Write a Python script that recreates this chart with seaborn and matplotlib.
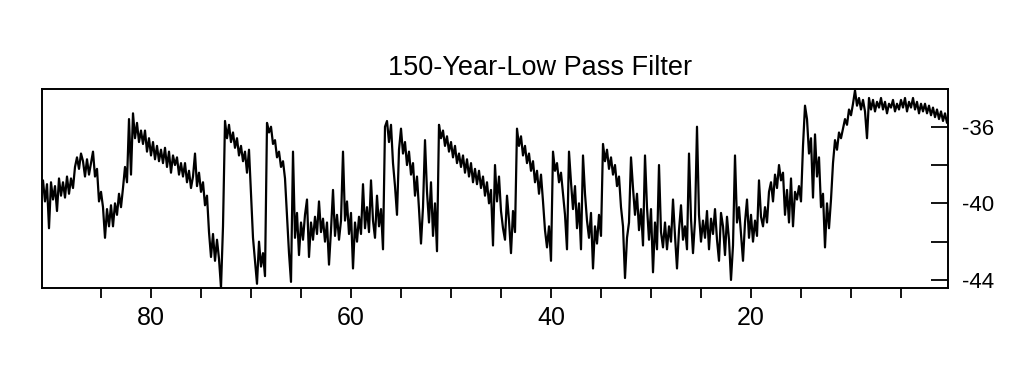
import numpy as np
import pandas as pd
import matplotlib
matplotlib.use("Agg")
import matplotlib.pyplot as plt
import seaborn as sns

# ----------------------------------------------------------------------
# Data: d18O values, one sample every 0.2 ka,
# starting at 90.8 ka (ten samples = 2 ka per row)
# ----------------------------------------------------------------------
start_age = 90.8
step_ka = 0.2

d18o = [
    -38.8, -39.9, -39.0, -41.3, -38.9, -39.8, -39.1, -40.4, -38.7, -39.6,
    -38.9, -39.7, -38.6, -39.5, -38.7, -39.2, -38.1, -37.6, -38.2, -37.4,
    -37.8, -38.6, -37.7, -38.5, -37.9, -37.3, -38.6, -38.2, -39.9, -39.4,
    -40.2, -41.8, -40.3, -41.2, -40.1, -41.2, -40.0, -40.6, -39.5, -40.2,
    -39.2, -38.1, -38.9, -35.6, -38.5, -35.3, -36.6, -35.8, -36.8, -36.2,
    -36.9, -36.2, -37.3, -36.6, -37.5, -36.8, -37.7, -37.0, -37.8, -37.2,
    -37.9, -37.1, -38.1, -37.3, -38.4, -37.5, -38.0, -37.6, -38.5, -37.9,
    -38.6, -37.9, -38.9, -38.3, -39.2, -38.6, -37.4, -39.1, -38.4, -39.4,
    -38.9, -40.1, -39.6, -41.5, -42.8, -41.6, -43.0, -41.9, -42.9, -44.4,
    -41.2, -35.7, -36.6, -35.9, -36.8, -36.3, -37.1, -36.6, -37.5, -37.0,
    -37.8, -37.3, -38.4, -37.2, -39.5, -41.8, -43.0, -44.2, -42.0, -43.3,
    -42.6, -43.8, -35.8, -36.3, -36.0, -36.9, -36.7, -37.6, -37.3, -38.1,
    -37.8, -38.7, -40.6, -42.6, -44.1, -37.3, -41.8, -40.5, -42.7, -41.0,
    -41.9, -40.6, -39.8, -42.8, -41.0, -41.9, -40.7, -41.6, -39.9, -41.5,
    -40.8, -42.0, -41.0, -43.2, -41.4, -39.3, -41.7, -40.6, -41.9, -40.9,
    -37.3, -40.9, -39.9, -41.6, -40.5, -43.4, -41.0, -42.0, -40.7, -41.6,
    -39.0, -41.3, -40.2, -41.5, -38.8, -40.9, -41.8, -39.6, -41.2, -40.3,
    -42.4, -36.0, -35.7, -36.8, -35.9, -37.9, -39.1, -40.6, -37.2, -36.1,
    -37.4, -36.8, -38.0, -37.3, -38.5, -37.9, -39.6, -38.6, -40.3, -42.1,
    -40.2, -36.7, -39.4, -41.0, -38.9, -41.7, -40.0, -42.5, -35.9, -36.6,
    -36.2, -37.0, -36.5, -37.3, -36.8, -37.6, -37.0, -37.9, -37.4, -38.1,
    -37.5, -38.4, -37.7, -38.6, -37.9, -38.9, -38.2, -39.0, -38.3, -39.2,
    -38.6, -39.6, -38.9, -40.0, -39.3, -42.2, -38.0, -39.9, -38.6, -40.4,
    -41.3, -41.9, -39.6, -40.9, -42.6, -40.4, -41.5, -36.1, -37.0, -36.5,
    -37.5, -37.0, -37.9, -37.4, -38.3, -37.8, -38.9, -38.3, -39.5, -38.5,
    -39.9, -41.4, -42.3, -41.2, -43.0, -37.3, -38.3, -37.9, -38.9, -38.4,
    -39.5, -40.6, -42.4, -37.3, -38.9, -40.3, -39.1, -41.3, -40.0, -42.4,
    -37.5, -39.5, -40.9, -41.8, -40.5, -43.4, -41.2, -42.1, -40.6, -41.7,
    -36.9, -37.8, -37.2, -38.2, -37.6, -38.5, -38.0, -39.1, -38.6, -40.2,
    -41.2, -43.9, -41.8, -41.0, -37.6, -39.2, -40.6, -39.5, -41.4, -40.3,
    -42.2, -37.5, -40.2, -41.9, -40.3, -43.6, -41.0, -42.4, -38.0, -41.5,
    -42.3, -41.0, -42.4, -41.2, -42.0, -39.8, -41.7, -43.4, -41.4, -40.1,
    -41.9, -41.2, -42.4, -37.4, -40.8, -42.6, -40.9, -36.0, -40.6, -42.0,
    -40.9, -41.8, -40.4, -42.4, -40.8, -41.6, -40.3, -41.9, -43.0, -40.5,
    -41.2, -42.7, -40.7, -41.9, -44.0, -42.2, -37.5, -41.0, -40.2, -41.6,
    -43.0, -41.0, -39.8, -41.8, -40.6, -42.0, -40.9, -41.7, -38.8, -40.7,
    -41.2, -40.2, -41.0, -39.4, -38.9, -39.9, -38.5, -39.2, -38.0, -38.8,
    -38.4, -40.6, -39.3, -41.0, -38.7, -41.2, -39.4, -39.8, -39.1, -39.9,
    -37.0, -34.9, -35.6, -37.4, -36.6, -39.7, -36.4, -38.6, -37.6, -40.2,
    -39.5, -42.3, -40.0, -41.3, -39.8, -37.9, -36.7, -37.2, -36.3, -36.6,
    -36.1, -35.6, -35.9, -35.1, -35.4, -34.8, -34.1, -34.9, -34.5, -35.1,
    -34.6, -35.2, -36.6, -34.5, -35.1, -34.6, -35.2, -34.7, -35.0, -34.5,
    -35.1, -34.7, -35.3, -34.8, -35.0, -34.6, -35.2, -34.8, -35.1, -34.6,
    -35.0, -34.5, -35.2, -34.7, -35.0, -34.5, -35.1, -34.7, -35.3, -34.8,
    -35.2, -34.8, -35.3, -34.9, -35.4, -35.0, -35.5, -35.1, -35.6, -35.2,
    -35.7, -35.3, -35.8,
]

age_ticks = [85, 80, 75, 70, 65, 60, 55, 50, 45, 40, 35, 30, 25, 20, 15, 10, 5]
age_labels = ["", "80", "", "", "", "60", "", "", "", "40", "", "", "", "20", "", "", ""]
d18o_ticks = [-44, -42, -40, -38, -36]
d18o_labels = ["-44", "", "-40", "", "-36"]

df = pd.DataFrame({
    "age": start_age - step_ka * np.arange(len(d18o)),
    "d18o": d18o,
})

# ----------------------------------------------------------------------
# Plot
# ----------------------------------------------------------------------
sns.set_style("white")
plt.rcParams["font.family"] = ["Liberation Sans", "DejaVu Sans"]
plt.rcParams["axes.unicode_minus"] = False
plt.rcParams["text.color"] = "black"
plt.rcParams["xtick.color"] = "black"
plt.rcParams["ytick.color"] = "black"

fig = plt.figure(figsize=(10.24, 3.8), dpi=100)
ax = fig.add_axes([42 / 1024, 1 - 288 / 380, (948 - 42) / 1024, (288 - 89) / 380])

sns.lineplot(data=df, x="age", y="d18o", ax=ax, color="black",
             linewidth=1.6, estimator=None, sort=False)

ax.set_xlim(90.9, 0.3)
ax.set_ylim(-44.42, -34.03)

ax.set_xticks(age_ticks)
ax.set_xticklabels(age_labels, fontsize=18)
ax.tick_params(axis="x", direction="out", length=7, width=1.3, pad=6,
               bottom=True, top=False, colors="black")

ax.yaxis.tick_right()
ax.set_yticks(d18o_ticks)
ax.set_yticklabels(d18o_labels, fontsize=16)
ax.tick_params(axis="y", direction="in", length=12, width=1.3, pad=10,
               right=True, left=False, labelright=True, labelleft=False,
               colors="black")

for sp in ax.spines.values():
    sp.set_visible(True)
    sp.set_linewidth(1.4)
    sp.set_color("black")

ax.set_xlabel("")
ax.set_ylabel("")

fig.text(540 / 1024, 1 - 68 / 380, "150-Year-Low Pass Filter",
         ha="center", va="center", fontsize=19.5, color="black")

fig.savefig("out.png", dpi=100)
